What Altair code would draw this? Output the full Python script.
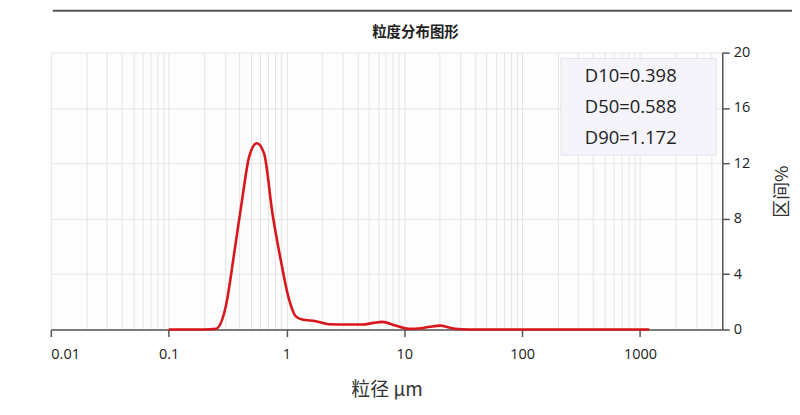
import altair as alt
import pandas as pd

# particle size (µm) and interval (%)
sizes = [0.1, 0.2, 0.252, 0.306, 0.36, 0.424, 0.483, 0.561, 0.646, 0.76, 0.895,
         1.05, 1.2, 1.36, 1.77, 2.3, 3.4, 4.4, 5.5, 6.5, 8.4, 10.9, 13.2, 16.5, 20.2,
         24.0, 27.0, 35.0, 1200.0]
values = [0.0, 0.0, 0.05, 1.7, 5.5, 9.6, 12.5, 13.45, 12.7, 8.4, 5.0,
          2.2, 0.95, 0.72, 0.6, 0.38, 0.36, 0.36, 0.48, 0.55, 0.29, 0.05, 0.07, 0.2, 0.28,
          0.15, 0.05, 0.0, 0.0]

stats_lines = ["D10=0.398", "D50=0.588", "D90=1.172"]
y_ticks = [0, 4, 8, 12, 16, 20]
x_grid = [m * 10.0 ** k for k in range(-2, 3 + 1) for m in range(1, 10)]
x_grid = [v for v in x_grid if v <= 5000]

title_text = "粒度分布图形"
x_title = "粒径 μm"
y_title = "区间%"

df = pd.DataFrame({"size": sizes, "value": values})
one = pd.DataFrame({"k": [0]})

CJK = "Noto Sans CJK SC"
LAT = "Open Sans"

decade_test = "abs(log(datum.value)/LN10 - round(log(datum.value)/LN10)) < 1e-6"

x_scale = alt.Scale(type="log", domain=[0.01, 5000], nice=False)
y_scale = alt.Scale(domain=[0, 20], nice=False)

x_axis = alt.Axis(
    values=x_grid,
    labelExpr=f"({decade_test}) ? format(datum.value, '~g') : ''",
    labelOverlap=False,
    labelFont=LAT, labelFontSize=14.5, labelColor="#222", labelPadding=11,
    tickSize=7, tickColor="#555", tickWidth=1.5,
    tickOpacity={"condition": {"test": decade_test, "value": 1}, "value": 0},
    domainColor="#555", domainWidth=1.5,
    gridColor="#e4e4e4", gridWidth=1,
    title=x_title, titleFont=CJK, titleFontSize=19, titleFontWeight="normal",
    titleColor="#333", titlePadding=20,
)

y_axis = alt.Axis(
    orient="right", values=y_ticks,
    labelFont=LAT, labelFontSize=14.5, labelColor="#222", labelPadding=4,
    tickSize=7, tickColor="#555", tickWidth=1.5,
    domainColor="#555", domainWidth=1.5,
    gridColor="#e4e4e4", gridWidth=1,
    title=y_title, titleFont=CJK, titleFontSize=18, titleFontWeight="normal",
    titleColor="#333", titleAngle=270, titlePadding=42,
)

line = alt.Chart(df).mark_line(
    color="#d8161c", strokeWidth=2.6, interpolate="monotone"
).encode(
    x=alt.X("size:Q", scale=x_scale, axis=x_axis),
    y=alt.Y("value:Q", scale=y_scale, axis=y_axis),
)

top_rule = alt.Chart(one).mark_rule(color="#555", strokeWidth=2).encode(
    x=alt.value(2), x2=alt.value(749), y=alt.value(-42)
)

box = alt.Chart(one).mark_rect(fill="#f4f4fa", stroke="#e4e4ec", strokeWidth=1).encode(
    x=alt.value(512), x2=alt.value(668), y=alt.value(6), y2=alt.value(103)
)

stats = alt.Chart(one).mark_text(
    align="left", baseline="middle", font=LAT, fontSize=18.5, color="#222", lineHeight=31
).encode(
    x=alt.value(536), y=alt.value(24), text=alt.value(stats_lines)
)

title = alt.Chart(one).mark_text(
    align="center", baseline="middle", font=CJK, fontSize=14.5, fontWeight="bold", color="#222"
).encode(
    x=alt.value(366), y=alt.value(-20), text=alt.value(title_text)
)

chart = alt.layer(box, line, stats, top_rule, title).properties(
    width=674, height=278,
    padding={"left": 43, "top": 44, "right": 70, "bottom": 75},
    autosize=alt.AutoSizeParams(type="none"),
).configure_view(stroke=None, fill="#fdfdfd")

chart.save("out.html", embed_options={"renderer": "svg", "actions": False})
